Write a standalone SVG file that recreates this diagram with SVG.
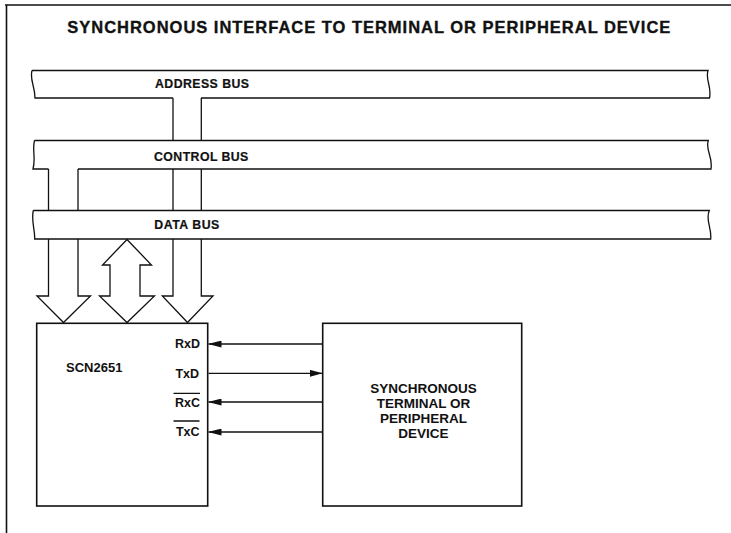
<svg xmlns="http://www.w3.org/2000/svg" width="731" height="533" viewBox="0 0 731 533">
<defs>
<style>
.ln{stroke:#111;stroke-width:1.3;fill:none;stroke-linejoin:miter}
.frame{stroke:#111;stroke-width:1.6;fill:none}
.busfill{fill:#fff;stroke:none}
.box{fill:#fff;stroke:#111;stroke-width:1.6}
.wire{stroke:#111;stroke-width:1.3;fill:none;marker-end:url(#ah)}
text{font-family:"Liberation Sans",Arial,Helvetica,sans-serif;font-weight:bold;fill:#111}
.title{font-size:16.5px;stroke:#111;stroke-width:0.35}
.bus-label{font-size:12.3px;stroke:#111;stroke-width:0.2}
.pin{font-size:12.5px;text-anchor:end}
.dev{font-size:13.5px;text-anchor:middle}
</style>
<marker id="ah" viewBox="0 0 13 7" refX="13" refY="3.5" markerWidth="13" markerHeight="7" markerUnits="userSpaceOnUse" orient="auto">
<path d="M0,0 L13,3.5 L0,7 z" fill="#111"/>
</marker>
</defs>
<rect width="731" height="533" fill="#fff"/>
<path class="frame" d="M5,5 H731 M6.5,5 V533"/>
<text class="title" x="67.3" y="33.3" textLength="603" lengthAdjust="spacing">SYNCHRONOUS INTERFACE TO TERMINAL OR PERIPHERAL DEVICE</text>

<g id="address-bus">
<path class="busfill" d="M32,70.5 H708 C705,80 712,86 709.5,98 H35 C35,86 29.5,80 32,70.5 Z"/>
<path class="ln" d="M32,70.5 H708 C705,80 712,86 709.5,98 H201 M173,98 H35 C35,86 29.5,80 32,70.5"/>
<text class="bus-label" x="155" y="88.3" textLength="94" lengthAdjust="spacing">ADDRESS BUS</text>
</g>

<g id="control-bus">
<path class="busfill" d="M34.5,140.5 H708.3 C705,150 713,156 711,169 H33 C36,158 32,150 34.5,140.5 Z"/>
<path class="ln" d="M34.5,140.5 H708.3 C705,150 713,156 711,169 H78 M48.5,169 H33 C36,158 32,150 34.5,140.5"/>
<text class="bus-label" x="154" y="160.7" textLength="94.3" lengthAdjust="spacing">CONTROL BUS</text>
</g>

<g id="data-bus">
<path class="busfill" d="M33.3,210.5 H709.3 C705,220 712,228 710.7,239 H34.7 C35,230 31,220 33.3,210.5 Z"/>
<path class="ln" d="M33.3,210.5 H709.3 C705,220 712,228 710.7,239 H34.7 C35,230 31,220 33.3,210.5"/>
<text class="bus-label" x="154.3" y="229" textLength="65" lengthAdjust="spacing">DATA BUS</text>
</g>

<g id="scn2651">
<rect class="box" x="36.7" y="323.3" width="171" height="182.7"/>
<text x="66" y="372.3" style="font-size:13px">SCN2651</text>
<text class="pin" x="200" y="348.3">RxD</text>
<text class="pin" x="199" y="378.3">TxD</text>
<text class="pin" x="200" y="406.7">RxC</text>
<text class="pin" x="199.5" y="436">TxC</text>
<path class="ln" d="M173.5,393.3 H200 M173.5,421 H199.5"/>
</g>

<g id="device">
<rect class="box" x="322.7" y="323.3" width="199" height="182.7"/>
<text class="dev" x="423.5" y="392.7">SYNCHRONOUS</text>
<text class="dev" x="423.5" y="407.7">TERMINAL OR</text>
<text class="dev" x="423.5" y="422.7">PERIPHERAL</text>
<text class="dev" x="423.5" y="438">DEVICE</text>
</g>

<g id="connectors">
<path class="ln" d="M48.5,169 V210.5 M78,169 V210.5 M48.5,239 V296 H37 L63.5,322.5 L90.5,296 H78 V239"/>
<path class="ln" d="M127,239.5 L102.5,265 H110 V296 H99.5 L127,322.5 L154.5,296 H140 V265 H151.5 Z"/>
<path class="ln" d="M173,98 V140.5 M201.3,98 V140.5 M173,169 V210.5 M201.3,169 V210.5 M173,239 V296 H162.3 L187.5,322.5 L213,296 H201.3 V239"/>
<path class="wire" d="M322.7,344 H208.5"/>
<path class="wire" d="M208.5,373.3 H322.7"/>
<path class="wire" d="M322.7,402 H208.5"/>
<path class="wire" d="M322.7,432 H208.5"/>
</g>
</svg>
